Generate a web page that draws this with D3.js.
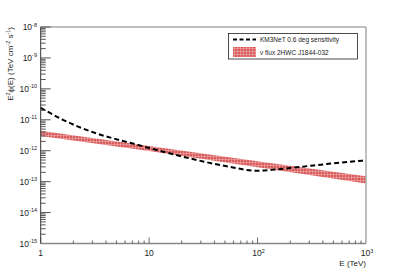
<!DOCTYPE html>
<html>
<head>
<meta charset="utf-8">
<script src="https://cdn.jsdelivr.net/npm/d3@7"></script>
<style>
  body { margin: 0; background: #fff; }
  svg { display: block; font-family: "Liberation Sans", Arial, sans-serif; }
</style>
</head>
<body>
<div id="chart"></div>
<script>
// sensitivity curve (dashed)
const sensEnergy = [1, 1.62, 3.29, 6.67, 13.5, 27.5, 55.7, 98, 150, 247, 500, 1000];
const sensFlux = [2.45e-11, 9.8e-12, 3.6e-12, 1.8e-12, 9.3e-13, 5.0e-13, 3.0e-13, 2.25e-13, 2.5e-13, 3.0e-13, 3.9e-13, 4.9e-13];

// neutrino flux band
const bandEnergy = [1, 10, 100, 1000];
const bandHigh = [4.4e-12, 1.42e-12, 4.6e-13, 1.5e-13];
const bandLow = [3.0e-12, 9.8e-13, 2.9e-13, 8.7e-14];

const xDecades = [1, 10, 100, 1000];
const xDecadeExp = [null, null, "2", "3"];
const yDecades = [-8, -9, -10, -11, -12, -13, -14, -15];

const legendLabels = ["KM3NeT 0.6 deg sensitivity", "\u03bd flux 2HWC J1844-032"];

const W = 407, H = 271;
const x0 = 40.7, x1 = 366, y0 = 27, y1 = 243.5;

const svg = d3.select("#chart").append("svg")
    .attr("width", W).attr("height", H);

const defs = svg.append("defs");
const pat = defs.append("pattern")
    .attr("id", "hatch")
    .attr("patternUnits", "userSpaceOnUse")
    .attr("width", 3).attr("height", 3);
pat.append("rect").attr("width", 3).attr("height", 3).attr("fill", "#d95c5c");
pat.append("path").attr("d", "M0,0.5H3M0.5,0V3")
    .attr("stroke", "#eda0a0").attr("stroke-width", 0.7);

const xScale = d3.scaleLog().domain([1, 1000]).range([x0, x1]);
const yScale = d3.scaleLog().domain([1e-15, 1e-8]).range([y1, y0]);

// band
const area = d3.area()
    .x(function (d, i) { return xScale(bandEnergy[i]); })
    .y0(function (d, i) { return yScale(bandLow[i]); })
    .y1(function (d, i) { return yScale(bandHigh[i]); });
svg.append("path")
    .datum(bandEnergy)
    .attr("d", area)
    .attr("fill", "url(#hatch)");

// sensitivity line
const line = d3.line()
    .x(function (d, i) { return xScale(sensEnergy[i]); })
    .y(function (d) { return yScale(d); })
    .curve(d3.curveMonotoneX);
svg.append("path")
    .datum(sensFlux)
    .attr("d", line)
    .attr("fill", "none")
    .attr("stroke", "#000")
    .attr("stroke-width", 2)
    .attr("stroke-dasharray", "5,3");

// frame
svg.append("line").attr("x1", x0).attr("x2", x1).attr("y1", y0).attr("y2", y0)
    .attr("stroke", "#aaa").attr("stroke-width", 1.5);
svg.append("line").attr("x1", x1).attr("x2", x1).attr("y1", y0).attr("y2", y1)
    .attr("stroke", "#aaa").attr("stroke-width", 1.5);

// Y axis ticks
const yAxisG = svg.append("g");
yAxisG.append("line").attr("x1", x0).attr("x2", x0).attr("y1", y0).attr("y2", y1)
    .attr("stroke", "#333").attr("stroke-width", 1);
for (let e = -15; e < -8; e++) {
    for (let m = 1; m <= 9; m++) {
        const v = m * Math.pow(10, e);
        const len = m === 1 ? 10 : 5;
        yAxisG.append("line")
            .attr("x1", x0).attr("x2", x0 + len)
            .attr("y1", yScale(v)).attr("y2", yScale(v))
            .attr("stroke", "#555").attr("stroke-width", 1);
    }
}
yAxisG.append("line").attr("x1", x0).attr("x2", x0 + 10)
    .attr("y1", yScale(1e-8)).attr("y2", yScale(1e-8))
    .attr("stroke", "#555");

yDecades.forEach(function (e) {
    const t = yAxisG.append("text")
        .attr("x", 37).attr("y", yScale(Math.pow(10, e)) + 3)
        .attr("text-anchor", "end")
        .attr("font-size", "8.5px")
        .attr("fill", "#222");
    t.append("tspan").text("10");
    t.append("tspan").attr("dy", -3.5).attr("font-size", "5.5px").text(e);
});

// X axis ticks
const xAxisG = svg.append("g");
xAxisG.append("line").attr("x1", x0).attr("x2", x1).attr("y1", y1).attr("y2", y1)
    .attr("stroke", "#888").attr("stroke-width", 1.5);
for (let e = 0; e < 3; e++) {
    for (let m = 1; m <= 9; m++) {
        const v = m * Math.pow(10, e);
        const len = m === 1 ? 6 : 3;
        xAxisG.append("line")
            .attr("x1", xScale(v)).attr("x2", xScale(v))
            .attr("y1", y1).attr("y2", y1 - len)
            .attr("stroke", "#444").attr("stroke-width", 0.8);
    }
}
xDecades.forEach(function (v, i) {
    const t = xAxisG.append("text")
        .attr("x", xScale(v) + (xDecadeExp[i] ? 1 : 0)).attr("y", 256)
        .attr("text-anchor", "middle")
        .attr("font-size", "8.5px")
        .attr("fill", "#222");
    t.append("tspan").text(v >= 100 ? "10" : String(v));
    if (xDecadeExp[i]) t.append("tspan").attr("dy", -3.5).attr("font-size", "5.5px").text(xDecadeExp[i]);
});

// axis titles
svg.append("text")
    .attr("x", 366).attr("y", 266)
    .attr("text-anchor", "end")
    .attr("font-size", "8px")
    .attr("fill", "#222")
    .text("E (TeV)");

const yt = svg.append("text")
    .attr("transform", "translate(13," + y0 + ") rotate(-90)")
    .attr("text-anchor", "end")
    .attr("font-size", "8px")
    .attr("fill", "#222");
yt.append("tspan").text("E");
yt.append("tspan").attr("dy", -3).attr("font-size", "5.5px").text("2");
yt.append("tspan").attr("dy", 3).text("\u03d5(E) (TeV cm");
yt.append("tspan").attr("dy", -3).attr("font-size", "5.5px").text("-2");
yt.append("tspan").attr("dy", 3).text(" s");
yt.append("tspan").attr("dy", -3).attr("font-size", "5.5px").text("-1");
yt.append("tspan").attr("dy", 3).text(")");

// legend
const lg = svg.append("g");
lg.append("rect").attr("x", 228.5).attr("y", 33.5).attr("width", 129).attr("height", 25.5)
    .attr("fill", "#fff").attr("stroke", "#222").attr("stroke-width", 0.8);
lg.append("line").attr("x1", 233).attr("x2", 256).attr("y1", 39.5).attr("y2", 39.5)
    .attr("stroke", "#000").attr("stroke-width", 2).attr("stroke-dasharray", "4,2.5");
lg.append("rect").attr("x", 233).attr("y", 47).attr("width", 23).attr("height", 10)
    .attr("fill", "url(#hatch)");
legendLabels.forEach(function (s, i) {
    lg.append("text")
        .attr("x", 260).attr("y", 42 + i * 12.5)
        .attr("font-size", "6.5px")
        .attr("fill", "#222")
        .text(s);
});
</script>
</body>
</html>
